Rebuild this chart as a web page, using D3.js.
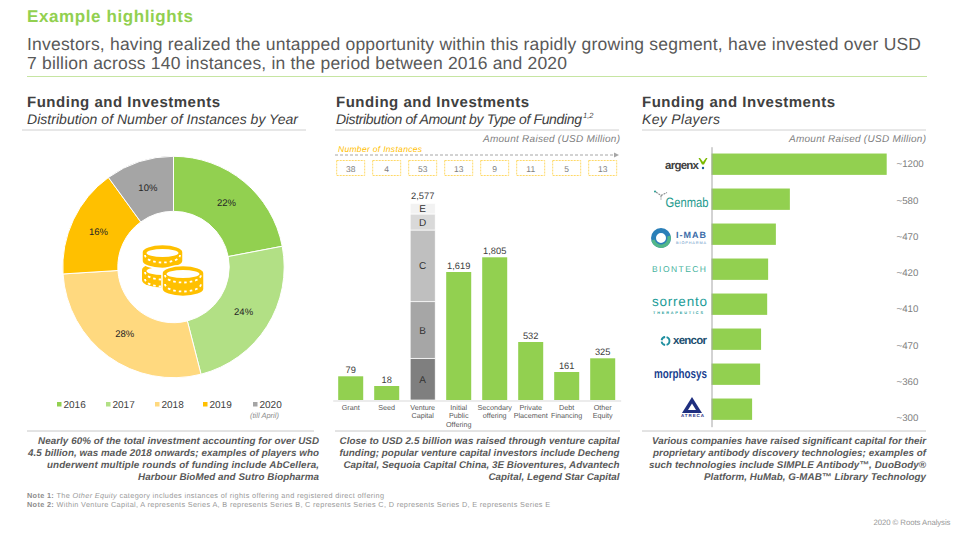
<!DOCTYPE html>
<html>
<head>
<meta charset="utf-8">
<script src="https://cdn.jsdelivr.net/npm/d3@7"></script>
<style>
html,body{margin:0;padding:0;background:#fff;overflow:hidden}
svg{display:block;font-family:"Liberation Sans",Arial,sans-serif;text-rendering:geometricPrecision}
</style>
</head>
<body>
<svg id="c" width="960" height="540"></svg>
<script>
// ---- data ----
const years = ["2016","2017","2018","2019","2020"];
const yearShares = [22,24,28,16,10];
const yearColors = ["#92d050","#b2e085","#ffd97f","#ffc000","#a5a5a5"];

const fundingTypes = [["Grant"],["Seed"],["Venture","Capital"],["Initial","Public","Offering"],["Secondary","offering"],["Private","Placement"],["Debt","Financing"],["Other","Equity"]];
const fundingAmounts = [79,18,2577,1619,1805,532,161,325];
const fundingInstances = [38,4,53,13,9,11,5,13];
const seriesNames = ["A","B","C","D","E"];
const seriesAmounts = [546,742,939,210,140];
const seriesColors = ["#7f7f7f","#a6a6a6","#bfbfbf","#d9d9d9","#f2f2f2"];

const players = ["argenx","Genmab","I-MAB","BioNTech","Sorrento","Xencor","MorphoSys","Atreca"];
const playerBarAmounts = [1290,577,474,417,410,365,358,299];
const playerLabels = ["~1200","~580","~470","~420","~410","~470","~360","~300"];

// ---- helpers ----
const svg = d3.select("#c");
function txt(g,x,y,s,o={}){
  const t=g.append("text").attr("x",x).attr("y",y).text(s)
    .attr("font-size",o.size||10).attr("fill",o.fill||"#595959")
    .attr("text-anchor",o.anchor||"start");
  if(o.weight)t.attr("font-weight",o.weight);
  if(o.style)t.attr("font-style",o.style);
  if(o.len)t.attr("textLength",o.len).attr("lengthAdjust",o.adjust||"spacing");
  return t;
}
function rule(x1,x2,y,c,w){svg.append("line").attr("x1",x1).attr("x2",x2).attr("y1",y).attr("y2",y).attr("stroke",c).attr("stroke-width",w||1);}

// ---- header ----
txt(svg,27,22,"Example highlights",{size:17,weight:"bold",fill:"#92d050",len:166});
txt(svg,27,50,"Investors, having realized the untapped opportunity within this rapidly growing segment, have invested over USD",{size:17.5,len:894});
txt(svg,27,69,"7 billion across 140 instances, in the period between 2016 and 2020",{size:17.5,len:540});
rule(27,927,76.5,"#c6e5a2");

// ---- section heads ----
[[27,"Distribution of Number of Instances by Year",271,22,306],
 [336,"Distribution of Amount by Type of Funding",246,335,619],
 [642,"Key Players",78,642,926]].forEach(([x,sub,len,r1,r2])=>{
  txt(svg,x,107,"Funding and Investments",{size:15,weight:"bold",fill:"#404040",len:193});
  txt(svg,x,124,sub,{size:14,style:"italic",fill:"#404040",len:len});
  rule(r1,r2,130,"#d0d0d0");
});
txt(svg,583,118,"1,2",{size:7.5,style:"italic",fill:"#404040"});

// ---- donut ----
const donut = svg.append("g").attr("transform","translate(173.5,267)");
const pie = d3.pie().sort(null).value(d=>d);
const arc = d3.arc().innerRadius(55.7).outerRadius(110.7);
const labelArc = d3.arc().innerRadius(83).outerRadius(83);
const arcs = pie(yearShares);
donut.selectAll("path").data(arcs).join("path").attr("d",arc)
  .attr("fill",(d,i)=>yearColors[i]).attr("stroke","#fff").attr("stroke-width",1);
donut.selectAll("text").data(arcs).join("text")
  .attr("transform",d=>`translate(${labelArc.centroid(d)})`)
  .attr("dy","0.35em").attr("text-anchor","middle").attr("font-size",9.5).attr("fill","#262626")
  .text(d=>d.data+"%");

// coin icon
const coins = svg.append("g");
function coinStack(cx,cy,rx,ry,h,bands,outline){
  const body=`M${cx-rx},${cy}V${cy+h}A${rx},${ry} 0 0 0 ${cx+rx},${cy+h}V${cy}A${rx},${ry} 0 0 0 ${cx-rx},${cy}Z`;
  coins.append("path").attr("d",body).attr("fill","#ffc000").attr("stroke",outline?"#fff":"none").attr("stroke-width",outline?1.5:0);
  coins.append("ellipse").attr("cx",cx).attr("cy",cy+1).attr("rx",rx-4.5).attr("ry",ry-3.5).attr("fill","#fff");
  bands.forEach(b=>coins.append("path").attr("d",`M${cx-rx+3},${cy+b}A${rx-3},${ry} 0 0 0 ${cx+rx-3},${cy+b}`)
    .attr("fill","none").attr("stroke","#fff").attr("stroke-width",1.8).attr("stroke-dasharray","2.5 3"));
}
coinStack(162.5,270,20.5,7.5,10,[2,9],false);
coinStack(162.5,252,20.5,7.5,9,[3],true);
coinStack(183,273,21,7.5,16,[2,11],true);

// ---- legend ----
const legendX = [57,106,155,203,253];
const legend = svg.append("g");
years.forEach((y,i)=>{
  legend.append("rect").attr("x",legendX[i]).attr("y",402).attr("width",4.5).attr("height",4.5).attr("fill",yearColors[i]);
  txt(legend,legendX[i]+6.5,407.5,y,{size:10,fill:"#404040"});
});
txt(svg,250,418,"(till April)",{size:7.5,style:"italic",fill:"#8c8c8c"});

// ---- funding chart ----
txt(svg,620,142,"Amount Raised (USD Million)",{size:10,style:"italic",fill:"#7f7f7f",anchor:"end",len:137});
txt(svg,338,152,"Number of Instances",{size:8.5,style:"italic",fill:"#ffc000",len:84});
svg.append("line").attr("x1",335).attr("x2",614).attr("y1",155).attr("y2",155)
  .attr("stroke","#a6a6a6").attr("stroke-dasharray","3 2");
svg.append("path").attr("d",d3.line()([[614,152.5],[619,155],[614,157.5]])+"Z").attr("fill","#a6a6a6");

const fx = d3.scaleBand().domain(d3.range(fundingTypes.length)).range([332.7,620.7]).paddingInner(.305).paddingOuter(.1525);
// the reference's bars are not proportional to their labels, hence a piecewise scale
const fy = d3.scaleLinear().domain([0,18,79,161,325,532,1619,1805]).range([400,386,376.3,372,358.3,342,272,257.3]);
const stackY = d3.scaleLinear().domain([0,d3.sum(seriesAmounts)]).range([400,203.3]);
const vcIndex = fundingAmounts.indexOf(d3.max(fundingAmounts));

const boxes = svg.append("g");
fundingInstances.forEach((n,i)=>{
  const cx = fx(i)+fx.bandwidth()/2;
  boxes.append("rect").attr("x",cx-14).attr("y",160.5).attr("width",28).attr("height",15)
    .attr("fill","#fff").attr("stroke","#ffd966").attr("stroke-dasharray","2 1");
  txt(boxes,cx,171.5,n,{size:8.5,fill:"#7f7f7f",anchor:"middle"});
});

const bars = svg.append("g");
fundingAmounts.forEach((v,i)=>{
  if(i===vcIndex) return;
  bars.append("rect").attr("x",fx(i)).attr("width",fx.bandwidth()).attr("y",fy(v)).attr("height",400-fy(v)).attr("fill","#92d050");
  txt(bars,fx(i)+fx.bandwidth()/2,fy(v)-3.5,d3.format(",")(v),{size:9.3,fill:"#404040",anchor:"middle"});
});
const stacked = d3.stack().keys(seriesNames).value((d,k)=>d[k])([Object.fromEntries(seriesNames.map((k,i)=>[k,seriesAmounts[i]]))]);
stacked.forEach((s,i)=>{
  const [y0,y1]=s[0];
  bars.append("rect").attr("x",fx(vcIndex)).attr("width",fx.bandwidth()).attr("y",stackY(y1)).attr("height",stackY(y0)-stackY(y1))
    .attr("fill",seriesColors[i]).attr("stroke","#fff").attr("stroke-width",.7);
  txt(bars,fx(vcIndex)+fx.bandwidth()/2,(stackY(y0)+stackY(y1))/2+3.5,seriesNames[i],{size:10,fill:"#333",anchor:"middle"});
});
txt(bars,fx(vcIndex)+fx.bandwidth()/2,199,d3.format(",")(fundingAmounts[vcIndex]),{size:9.3,fill:"#404040",anchor:"middle"});

const xAxis = svg.append("g").attr("transform","translate(0,400.5)").call(d3.axisBottom(fx).tickSize(0).tickFormat(""));
xAxis.select(".domain").attr("stroke","#d9d9d9");
xAxis.selectAll(".tick text").remove();
xAxis.selectAll(".tick").append("text").attr("fill","#595959").attr("font-size",7.2).attr("text-anchor","middle")
  .each(function(i){
    d3.select(this).selectAll("tspan").data(fundingTypes[i]).join("tspan")
      .attr("x",0).attr("y",(d,j)=>9.5+j*8.3).text(d=>d);
  });

// ---- key players ----
txt(svg,926,142,"Amount Raised (USD Million)",{size:10,style:"italic",fill:"#7f7f7f",anchor:"end",len:137});
const py = d3.scaleBand().domain(players).range([146.7,426.7]).paddingInner(.39).paddingOuter(.195);
const px = d3.scaleLinear().domain([0,1290]).range([711.5,886.7]);
const labelY = d3.scalePoint().domain(d3.range(players.length)).range([164,417.7]);
svg.append("g").selectAll("rect").data(players).join("rect")
  .attr("x",px(0)).attr("y",d=>py(d)).attr("height",py.bandwidth())
  .attr("width",(d,i)=>px(playerBarAmounts[i])-px(0)).attr("fill","#92d050");
const yAxis = svg.append("g").attr("transform","translate(711.5,0)").call(d3.axisLeft(py).tickSize(0).tickFormat(""));
yAxis.select(".domain").attr("stroke","#a6a6a6");
yAxis.selectAll(".tick text").remove();
playerLabels.forEach((l,i)=>txt(svg,896.5,labelY(i)+3.4,l,{size:9.7,fill:"#7f7f7f"}));

// logos
const L = svg.append("g");
txt(L,665,169,"argenx",{size:11.5,weight:"bold",fill:"#404040",len:34});
L.append("path").attr("d","M700,158l3,4l3,-4l1.5,0l-3.5,6.5h-2l-3.5,-6.5z").attr("fill","#7ab800");
L.append("circle").attr("cx",703).attr("cy",168).attr("r",1.2).attr("fill","#1f5f99");

txt(L,665.5,206.5,"Genmab",{size:13.5,fill:"#1d9a8e",len:43,adjust:"spacingAndGlyphs"});
L.append("path").attr("d","M656,192l5,3.5l6,-3M661,195.5v4").attr("fill","none").attr("stroke","#8a8f90").attr("stroke-width",1.2).attr("stroke-dasharray","2 1");
L.append("circle").attr("cx",655).attr("cy",191.5).attr("r",1).attr("fill","#1d9a8e");

L.append("circle").attr("cx",661).attr("cy",238).attr("r",7.5).attr("fill","none").attr("stroke","#2a7fb8").attr("stroke-width",5);
L.append("path").attr("d","M653,240A8,8 0 0 0 669,236").attr("fill","none").attr("stroke","#52b788").attr("stroke-width",3.5);
txt(L,676,238,"I-MAB",{size:9,weight:"bold",fill:"#3b6ca8",len:30});
txt(L,676,243.5,"BIOPHARMA",{size:3.8,fill:"#5b8fbf",len:30});

txt(L,652,272,"BIONTECH",{size:8.5,fill:"#45b29d",len:54});

txt(L,652,305.5,"sorrento",{size:13.5,fill:"#1c9c98",len:55});
txt(L,653,313.5,"THERAPEUTICS",{size:3.8,weight:"bold",fill:"#1c9c98",len:50});

L.append("circle").attr("cx",665.5).attr("cy",341).attr("r",4).attr("fill","none").attr("stroke","#1f8fa0").attr("stroke-width",1.8).attr("stroke-dasharray","5 1.5");
txt(L,673,344,"xencor",{size:11.5,weight:"bold",fill:"#1d4f6f",len:34});

txt(L,654,378,"morphosys",{size:13,weight:"bold",fill:"#1a3f8f",len:53,adjust:"spacingAndGlyphs"});

L.append("path").attr("d","M692,397L702,413H682Z M692,403.5L688,410H696Z").attr("fill","#1f2f7f").attr("fill-rule","evenodd");
txt(L,692.5,417,"ATRECA",{size:4.5,weight:"bold",fill:"#1f2f7f",anchor:"middle",len:23});

// ---- commentary ----
rule(27,314,431,"#c8c8c8");rule(335,620,431,"#c8c8c8");rule(642,926,431,"#c8c8c8");
const notes = [
 [319,[["Nearly 60% of the total investment accounting for over USD",281],["4.5 billion, was made 2018 onwards; examples of players who",291],["underwent multiple rounds of funding  include AbCellera,",272],["Harbour BioMed and Sutro Biopharma",181]]],
 [619.5,[["Close to USD 2.5 billion was raised through venture capital",280],["funding; popular venture capital investors include Decheng",280],["Capital, Sequoia Capital China, 3E Bioventures, Advantech",276],["Capital, Legend Star Capital",131]]],
 [926,[["Various companies have raised significant capital for their",274],["proprietary antibody discovery technologies; examples of",273],["such technologies include SIMPLE Antibody\u2122, DuoBody\u00ae",277],["Platform, HuMab, G-MAB\u2122 Library Technology",222]]]
];
notes.forEach(([x,lines])=>lines.forEach(([s,len],i)=>{
  txt(svg,x,444+i*12,s,{size:9.8,weight:"bold",style:"italic",fill:"#595959",anchor:"end",len:len});
}));

// ---- footnotes ----
const n1 = txt(svg,27,497.5,"",{size:7.3,fill:"#999"});
n1.append("tspan").attr("font-weight","bold").attr("fill","#8c8c8c").text("Note 1: ");
n1.append("tspan").text("The ");
n1.append("tspan").attr("font-style","italic").text("Other Equity");
n1.append("tspan").text(" category includes instances of rights offering and registered direct offering");
n1.attr("textLength",357);
const n2 = txt(svg,27,507,"",{size:7.3,fill:"#999"});
n2.append("tspan").attr("font-weight","bold").attr("fill","#8c8c8c").text("Note 2: ");
n2.append("tspan").text("Within Venture Capital, A represents Series A, B represents Series B, C represents Series C, D represents Series D, E represents Series E");
n2.attr("textLength",523);
txt(svg,950.5,525,"2020 \u00a9 Roots Analysis",{size:7.8,fill:"#999",anchor:"end",len:77});
</script>
</body>
</html>
